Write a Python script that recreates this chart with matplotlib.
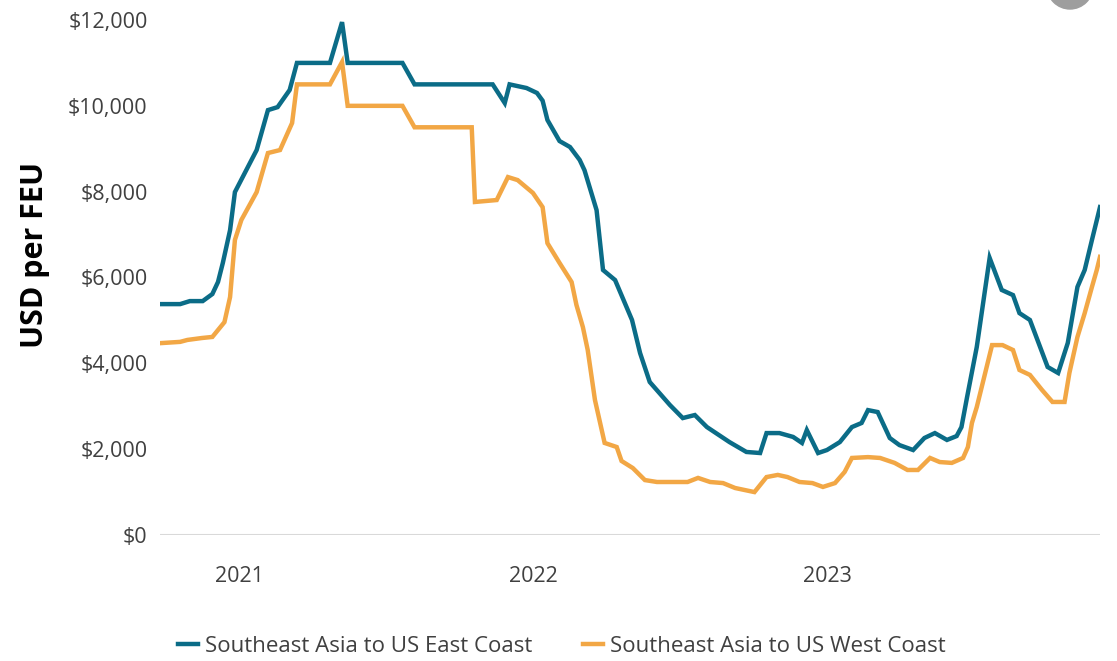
"""
Freight rates: Southeast Asia to US East / West Coast (USD per FEU).
"""

import matplotlib
matplotlib.use("Agg")
import matplotlib.pyplot as plt
import matplotlib.dates as mdates
import matplotlib.ticker as mticker
from matplotlib.patches import Ellipse
import pandas as pd

# Southeast Asia -> US East Coast
east_dates = [
    "2020-09-24", "2020-10-19", "2020-10-31", "2020-11-16", "2020-11-28", "2020-12-05",
    "2020-12-11", "2020-12-20", "2020-12-26", "2021-01-22", "2021-02-05", "2021-02-17",
    "2021-03-04", "2021-03-13", "2021-04-23", "2021-05-08", "2021-05-15", "2021-07-22",
    "2021-08-06", "2021-11-11", "2021-11-26", "2021-12-02", "2021-12-23", "2022-01-05",
    "2022-01-12", "2022-01-18", "2022-02-02", "2022-02-15", "2022-02-27", "2022-03-05",
    "2022-03-20", "2022-03-28", "2022-04-12", "2022-05-03", "2022-05-13", "2022-05-25",
    "2022-06-19", "2022-07-05", "2022-07-20", "2022-08-04", "2022-09-01", "2022-09-22",
    "2022-10-09", "2022-10-17", "2022-11-02", "2022-11-19", "2022-11-30", "2022-12-06",
    "2022-12-20", "2022-12-31", "2023-01-16", "2023-01-31", "2023-02-12", "2023-02-20",
    "2023-03-04", "2023-03-19", "2023-03-31", "2023-04-17", "2023-05-01", "2023-05-14",
    "2023-05-29", "2023-06-10", "2023-06-16", "2023-06-23", "2023-07-05", "2023-07-21",
    "2023-08-05", "2023-08-19", "2023-08-27", "2023-09-09", "2023-10-01", "2023-10-14",
    "2023-10-26", "2023-11-07", "2023-11-16", "2023-11-25", "2023-12-02", "2023-12-05",
]
east_values = [
    5380, 5380, 5450, 5450, 5615, 5895,
    6340, 7105, 7990, 8970, 9900, 9970,
    10370, 11000, 11000, 11950, 11000, 11000,
    10500, 10500, 10065, 10500, 10415, 10300,
    10120, 9670, 9180, 9040, 8740, 8500,
    7570, 6175, 5940, 5010, 4240, 3565,
    3030, 2725, 2795, 2515, 2165, 1935,
    1910, 2375, 2375, 2285, 2145, 2445,
    1910, 1980, 2165, 2515, 2610, 2910,
    2865, 2260, 2095, 1980, 2260, 2375,
    2215, 2305, 2515, 3215, 4380, 6455,
    5710, 5590, 5170, 5010, 3915, 3775,
    4475, 5780, 6175, 6875, 7410, 7640,
]

# Southeast Asia -> US West Coast
west_dates = [
    "2020-09-24", "2020-10-19", "2020-10-28", "2020-11-15", "2020-11-28", "2020-12-13",
    "2020-12-20", "2020-12-26", "2021-01-03", "2021-01-22", "2021-02-05", "2021-02-20",
    "2021-03-07", "2021-03-13", "2021-04-23", "2021-05-08", "2021-05-15", "2021-07-22",
    "2021-08-06", "2021-10-16", "2021-10-20", "2021-11-16", "2021-11-30", "2021-12-12",
    "2021-12-31", "2022-01-12", "2022-01-18", "2022-02-02", "2022-02-17", "2022-02-23",
    "2022-03-03", "2022-03-09", "2022-03-18", "2022-03-30", "2022-04-14", "2022-04-20",
    "2022-05-04", "2022-05-19", "2022-06-03", "2022-07-11", "2022-07-24", "2022-08-08",
    "2022-08-24", "2022-09-08", "2022-10-02", "2022-10-17", "2022-10-31", "2022-11-12",
    "2022-11-27", "2022-12-13", "2022-12-26", "2023-01-10", "2023-01-22", "2023-01-31",
    "2023-02-20", "2023-03-07", "2023-03-25", "2023-04-10", "2023-04-23", "2023-05-08",
    "2023-05-20", "2023-06-04", "2023-06-18", "2023-06-24", "2023-06-29", "2023-07-05",
    "2023-07-24", "2023-08-06", "2023-08-19", "2023-08-27", "2023-09-09", "2023-09-24",
    "2023-10-07", "2023-10-22", "2023-10-28", "2023-11-07", "2023-11-16", "2023-11-25",
    "2023-12-01", "2023-12-05",
]
west_values = [
    4470, 4500, 4545, 4590, 4615, 4960,
    5545, 6875, 7340, 7990, 8900, 8970,
    9600, 10500, 10500, 11020, 10000, 10000,
    9500, 9500, 7760, 7805, 8340, 8270,
    7970, 7640, 6800, 6340, 5895, 5360,
    4845, 4310, 3145, 2145, 2050, 1725,
    1560, 1280, 1235, 1235, 1330, 1235,
    1210, 1095, 1000, 1350, 1400, 1350,
    1235, 1210, 1120, 1210, 1470, 1795,
    1815, 1795, 1680, 1515, 1515, 1795,
    1700, 1680, 1795, 2050, 2610, 2980,
    4425, 4425, 4310, 3845, 3730, 3380,
    3100, 3100, 3775, 4615, 5170, 5780,
    6175, 6480,
]

series_labels = ["Southeast Asia to US East Coast", "Southeast Asia to US West Coast"]
year_ticks = ["2021-01-01", "2022-01-01", "2023-01-01"]

EAST_COLOR = "#0b6c87"
WEST_COLOR = "#f2a745"
TEXT_COLOR = "#404040"

plt.rcParams["font.family"] = ["Open Sans", "DejaVu Sans"]

fig = plt.figure(figsize=(11.17, 6.61), dpi=100)
ax = fig.add_axes([160 / 1117, 1 - 535 / 661, 940 / 1117, 515 / 661])

ax.plot(pd.to_datetime(east_dates), east_values, color=EAST_COLOR, lw=3.2,
        solid_joinstyle="miter", label=series_labels[0])
ax.plot(pd.to_datetime(west_dates), west_values, color=WEST_COLOR, lw=3.2,
        solid_joinstyle="miter", label=series_labels[1])

ax.set_ylim(0, 12000)
ax.set_xlim(pd.Timestamp("2020-09-24"), pd.Timestamp("2023-12-05"))
ax.set_yticks(range(0, 12001, 2000))
ax.yaxis.set_major_formatter(mticker.FuncFormatter(lambda v, p: f"${v:,.0f}"))
ax.set_xticks(pd.to_datetime(year_ticks))
ax.xaxis.set_major_formatter(mdates.DateFormatter("%Y"))

for s in ax.spines.values():
    s.set_visible(False)
ax.axhline(0, color="#d9d9d9", lw=1.5, zorder=0)
ax.tick_params(axis="both", length=0, labelsize=15.5, colors=TEXT_COLOR)
ax.tick_params(axis="y", pad=9)
ax.tick_params(axis="x", pad=22)

fig.text(35 / 1117, 1 - 255 / 661, "USD per FEU", rotation=90, ha="center",
         va="center", fontsize=22, fontweight="bold", color="black")

fig.legend(loc="center", bbox_to_anchor=(562 / 1117, 1 - 646 / 661), ncol=2,
           frameon=False, fontsize=16, handlelength=0.9, handletextpad=0.3,
           columnspacing=2.3, labelcolor=TEXT_COLOR)

# grey circle cut off at the top-right corner of the screenshot
fig.patches.append(Ellipse((1070 / 1117, 1 + 14 / 661), 46 / 1117, 46 / 661,
                           transform=fig.transFigure, color="#9e9e9e", zorder=5))

fig.savefig("out.png", dpi=100)
